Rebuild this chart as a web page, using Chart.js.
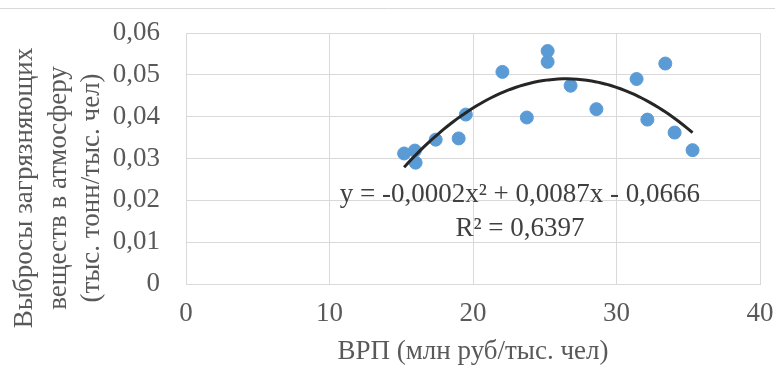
<!DOCTYPE html>
<html>
<head>
<meta charset="utf-8">
<script src="https://cdn.jsdelivr.net/npm/chart.js@4"></script>
<style>
  html, body { margin: 0; padding: 0; background: #fff; }
  #wrap { width: 775px; height: 372px; position: relative; }
</style>
</head>
<body>
<div id="wrap"><canvas id="chart" width="775" height="372"></canvas></div>
<script>
// ВРП (млн руб/тыс. чел) and выбросы (тыс. тонн/тыс. чел)
const grp = [15.2, 15.95, 16.0, 17.4, 19.0, 19.5, 22.05, 23.75, 25.2, 25.2, 26.8, 28.6, 31.4, 32.15, 33.4, 34.05, 35.3];
const emissions = [0.0312, 0.0319, 0.0290, 0.0345, 0.0348, 0.0405, 0.0507, 0.0398, 0.0557, 0.0531, 0.0474, 0.0418, 0.0490, 0.0393, 0.0527, 0.0362, 0.0320];

const xTicks = [0, 10, 20, 30, 40];
const yTicks = [0, 0.01, 0.02, 0.03, 0.04, 0.05, 0.06];

const yTitleLines = ["Выбросы загрязняющих", "веществ в атмосферу", "(тыс. тонн/тыс. чел)"];
const xTitle = "ВРП (млн руб/тыс. чел)";
const equationText = "y = -0,0002x² + 0,0087x - 0,0666";
const r2Text = "R² = 0,6397";

// quadratic least-squares trend, the same way Excel builds it
function polyFit2(xs, ys) {
  let s = [0, 0, 0, 0, 0], t = [0, 0, 0];
  for (let i = 0; i < xs.length; i++) {
    let p = 1;
    for (let k = 0; k < 5; k++) { s[k] += p; if (k < 3) t[k] += p * ys[i]; p *= xs[i]; }
  }
  const m = [[s[0], s[1], s[2], t[0]], [s[1], s[2], s[3], t[1]], [s[2], s[3], s[4], t[2]]];
  for (let c = 0; c < 3; c++) {
    for (let r = c + 1; r < 3; r++) {
      const f = m[r][c] / m[c][c];
      for (let k = c; k < 4; k++) m[r][k] -= f * m[c][k];
    }
  }
  const b = [0, 0, 0];
  for (let r = 2; r >= 0; r--) {
    let v = m[r][3];
    for (let k = r + 1; k < 3; k++) v -= m[r][k] * b[k];
    b[r] = v / m[r][r];
  }
  return b; // c0, c1, c2
}

const coef = polyFit2(grp, emissions);
const xMin = Math.min(...grp), xMax = Math.max(...grp);
const trend = [];
for (let i = 0; i <= 60; i++) {
  const x = xMin + (xMax - xMin) * i / 60;
  trend.push({ x: x, y: coef[0] + coef[1] * x + coef[2] * x * x });
}

const serif = "'Liberation Serif', 'Times New Roman', serif";
const fontSize = 27;
const comma = (v) => String(v).replace(".", ",");

const extras = {
  id: "extras",
  beforeDraw(chart) {
    const ctx = chart.ctx;
    ctx.save();
    ctx.strokeStyle = "#d9d9d9";
    ctx.lineWidth = 1;
    ctx.beginPath();
    ctx.moveTo(0, 8.5);
    ctx.lineTo(775, 8.5);
    ctx.stroke();

    // y axis title, three rotated lines sitting a bit below the plot centre
    ctx.fillStyle = "#595959";
    ctx.font = fontSize + "px " + serif;
    ctx.textAlign = "center";
    ctx.textBaseline = "middle";
    const cols = [25, 59, 92];
    yTitleLines.forEach((line, i) => {
      ctx.save();
      ctx.translate(cols[i], 188);
      ctx.rotate(-Math.PI / 2);
      ctx.fillText(line, 0, 0);
      ctx.restore();
    });
    ctx.restore();
  },
  afterDatasetsDraw(chart) {
    const ctx = chart.ctx;
    const xs = chart.scales.x, ys = chart.scales.y;
    const cx = xs.getPixelForValue(23.27);
    ctx.save();
    ctx.fillStyle = "#404040";
    ctx.font = fontSize + "px " + serif;
    ctx.textAlign = "center";
    ctx.textBaseline = "middle";
    ctx.fillText(equationText, cx, ys.getPixelForValue(0.0214));
    ctx.fillText(r2Text, cx, ys.getPixelForValue(0.0132));
    ctx.restore();
  }
};

new Chart(document.getElementById("chart"), {
  type: "scatter",
  data: {
    datasets: [
      {
        label: "trend",
        type: "line",
        data: trend,
        borderColor: "#262626",
        borderWidth: 3,
        pointRadius: 0,
        fill: false,
        tension: 0,
        order: 1,
      },
      {
        label: "points",
        data: grp.map((x, i) => ({ x: x, y: emissions[i] })),
        backgroundColor: "#5b9bd5",
        borderColor: "#5b9bd5",
        pointRadius: 6.5,
        order: 2,
      },
    ],
  },
  options: {
    responsive: false,
    animation: false,
    layout: { padding: { top: 33, right: 15, left: 8, bottom: 0 } },
    plugins: { legend: { display: false }, tooltip: { enabled: false } },
    scales: {
      x: {
        type: "linear",
        min: 0,
        max: 40,
        afterBuildTicks: (axis) => { axis.ticks = xTicks.map((v) => ({ value: v })); },
        afterFit: (axis) => {
          axis.height = 372 - 284;
          axis.paddingLeft = 0;
          axis.paddingRight = 0;
        },
        grid: { color: "#d9d9d9", drawTicks: false },
        border: { display: true, color: "#d9d9d9" },
        ticks: { color: "#595959", font: { family: serif, size: fontSize }, padding: 14 },
        title: {
          display: true,
          text: xTitle,
          color: "#595959",
          font: { family: serif, size: fontSize, lineHeight: 1.2 },
          padding: { top: 0, bottom: 4 },
        },
      },
      y: {
        min: 0,
        max: 0.06,
        afterBuildTicks: (axis) => { axis.ticks = yTicks.map((v) => ({ value: v })); },
        afterFit: (axis) => {
          axis.width = 186 - 8;
          axis.paddingTop = 0;
          axis.paddingBottom = 0;
        },
        grid: { color: "#d9d9d9", drawTicks: false },
        border: { display: true, color: "#d9d9d9" },
        ticks: { color: "#595959", font: { family: serif, size: fontSize }, padding: 26, callback: (v) => comma(v) },
        title: { display: false },
      },
    },
  },
  plugins: [extras],
});
</script>
</body>
</html>
